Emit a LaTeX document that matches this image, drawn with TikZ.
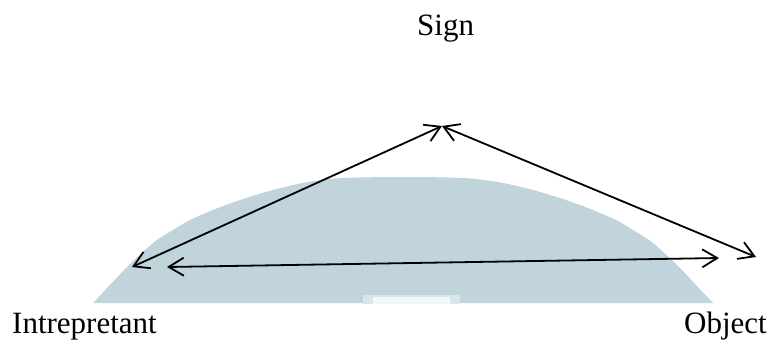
\documentclass[tikz,border=0pt]{standalone}
\usepackage{fontspec}
\setmainfont{Liberation Serif}
\usetikzlibrary{arrows.meta}
\definecolor{domefill}{RGB}{193,212,219}
\definecolor{domelight}{RGB}{216,229,234}
\definecolor{notchfill}{RGB}{242,247,249}
\tikzset{
  lbl/.style={inner sep=0pt, anchor=base west, font=\fontsize{31}{36}\selectfont},
  link/.style={line width=1.8pt, {Straight Barb[length=15pt,width=18pt]}-{Straight Barb[length=15pt,width=18pt]}},
}
\begin{document}
\begin{tikzpicture}[x=1pt,y=-1pt]
\useasboundingbox (0,0) rectangle (773,343);
\fill[white] (0,0) rectangle (773,343);
% watermark dome
\fill[domefill] plot[smooth, tension=0.5] coordinates {(93,303) (110,285) (127,267) (145,250) (157,240) (173,230) (190,220) (213,210) (240,200) (273,190) (308,182) (343,178) (403,177) (463,178) (498,182) (533,190) (566,200) (593,210) (616,220) (633,230) (649,240) (661,250) (679,267) (696,285) (713,303)} -- cycle;
\fill[domelight] (363,295) rectangle (460,304);
\fill[notchfill] (373,297) rectangle (450,304);
% labels
\node[lbl] (sign) at (417,35) {Sign};
\node[lbl] (interp) at (12,333) {Intrepretant};
\node[lbl] (obj) at (684,333) {Object};
% connector ends
\coordinate (sgnA) at (442,126);
\coordinate (intA) at (132,267);
\coordinate (intB) at (167,267);
\coordinate (objA) at (756,257);
\coordinate (objB) at (719,258);
\draw[link] (sgnA) -- (intA);
\draw[link] (sgnA) -- (objA);
\draw[link] (intB) -- (objB);
\end{tikzpicture}
\end{document}
